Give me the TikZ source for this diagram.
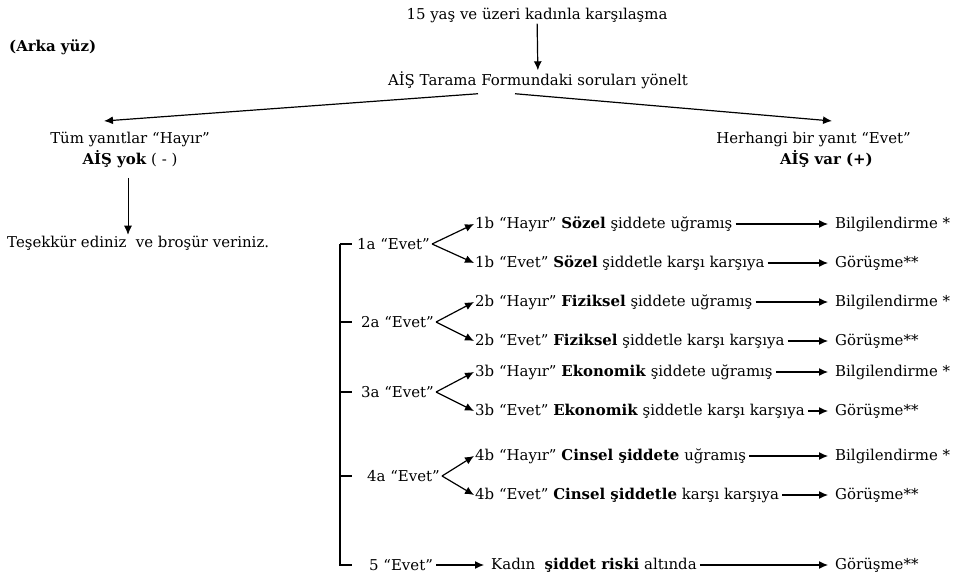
\documentclass[tikz,border=0pt]{standalone}
\usepackage{fontspec}
\setmainfont{DejaVu Serif}
\usetikzlibrary{arrows.meta}

\begin{document}
\begin{tikzpicture}[
    x=1bp,y=-1bp,
    txt/.style={font=\fontsize{15}{21}\selectfont,inner sep=1pt},
    arr/.style={-{Latex[length=9pt,width=8pt]},line width=1.2pt},
    goarr/.style={arr,shorten <=2bp,shorten >=6bp},
    thinarr/.style={-{Latex[length=9pt,width=8pt]},line width=0.7pt}
    ]

    \useasboundingbox (0,0) rectangle (962,587);

    \node (arka) [txt,anchor=west] at (8,47) {\textbf{(Arka yüz)}};
    \node (start) [txt] at (537,15) {15 yaş ve üzeri kadınla karşılaşma};
    \node (tarama) [txt] at (538,80) {AİŞ Tarama Formundaki soruları yönelt};
    \draw[arr] (start) -- (tarama);

    \node (tum) [txt,align=center] at (130,150)
      {Tüm yanıtlar “Hayır”\\\textbf{AİŞ yok} ( - )};
    \node (herhangi) [txt,align=right,anchor=east] at (912,150)
      {Herhangi bir yanıt “Evet”\\\textbf{AİŞ var (+)}\hspace*{38bp}};
    \coordinate (hl) at (104,121);
    \coordinate (hr) at (832,121);
    \draw[arr] (tarama.south) ++(-60,4) -- (hl);
    \draw[arr] (tarama.south) ++(-23,4) -- (hr);

    \node (tesekkur) [txt,anchor=west] at (6,243) {Teşekkür ediniz\ \ ve broşür veriniz.};
    \draw[thinarr] (128,178) -- (tesekkur.north -| 128,0);

    % answers, one group per question
    \foreach \n/\yt/\xa/\hay/\evt in {
        1/224/356/{\textbf{Sözel} şiddete}/{\textbf{Sözel} şiddetle},
        2/302/360/{\textbf{Fiziksel} şiddete}/{\textbf{Fiziksel} şiddetle},
        3/372/360/{\textbf{Ekonomik} şiddete}/{\textbf{Ekonomik} şiddetle},
        4/456/366/{\textbf{Cinsel şiddete}}/{\textbf{Cinsel şiddetle}}}
      {
        \node (a\n) [txt,anchor=west] at (\xa,\yt+20) {\n a “Evet”};
        \coordinate (v\n) at ([xshift=1bp]a\n.east);
        \node (bh\n) [txt,anchor=west] at (474,\yt) {\n b “Hayır” \hay{} uğramış};
        \node (be\n) [txt,anchor=west] at (474,\yt+39) {\n b “Evet” \evt{} karşı karşıya};
        \node (bil\n) [txt,anchor=west] at (834,\yt) {Bilgilendirme *};
        \node (gor\n) [txt,anchor=west] at (834,\yt+39) {Görüşme**};
        \draw[arr] (v\n) -- (bh\n.west);
        \draw[arr] (v\n) -- (be\n.west);
        \draw[goarr] (bh\n) -- (bil\n);
        \draw[goarr] (be\n) -- (gor\n);
        \draw[line width=1.2pt] (340,0 |- a\n.west) -- (352,0 |- a\n.west);
      }

    \node (a5) [txt,anchor=west] at (368,565) {5 “Evet”};
    \node (risk) [txt,anchor=west] at (490,565) {Kadın\ \ \textbf{şiddet riski} altında};
    \node (gor5) [txt,anchor=west] at (834,565) {Görüşme**};
    \draw[goarr] (a5) -- (risk);
    \draw[goarr] (risk) -- (gor5);

    \draw[line width=1.2pt] (340,0 |- a1.west) -- (340,0 |- a5.west) -- (352,0 |- a5.west);

  \end{tikzpicture}
\end{document}
